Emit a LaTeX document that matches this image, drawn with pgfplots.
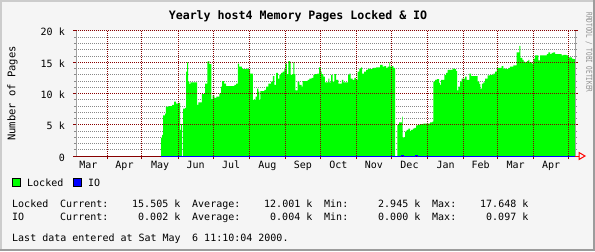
\documentclass[border=0pt]{standalone}
\usepackage{pgfplots}
\pgfplotsset{compat=1.18}
\usepackage{fontspec}
\setmainfont{DejaVu Sans Mono}
\newfontfamily\rrdmono{DejaVu Sans Mono}
\newcommand\rrdten{\rrdmono\fontsize{10bp}{12bp}\selectfont}
\definecolor{bg}{HTML}{F5F5F5}
\definecolor{edgeL}{HTML}{CCCCCC}
\definecolor{edgeD}{HTML}{9C9C9C}
\definecolor{mgrid}{HTML}{880000}
\definecolor{ngrid}{HTML}{888888}
\definecolor{axgray}{HTML}{A0A0A0}
\definecolor{credgray}{HTML}{8C8C8C}
\definecolor{lockgreen}{HTML}{00FF00}
\definecolor{ioblue}{HTML}{0000FF}
\begin{document}
\begin{tikzpicture}[x=1bp,y=1bp]
\useasboundingbox (0,0) rectangle (595,251);
\fill[bg] (0,0) rectangle (595,251);
\fill[edgeL] (0,0) rectangle (2,251);
\fill[edgeL] (0,249) rectangle (595,251);
\fill[edgeD] (592.5,0) rectangle (595,251);
\fill[edgeD] (0,0) rectangle (595,2);

\begin{axis}[name=base, at={(76bp,95bp)}, anchor=south west, scale only axis,
  width=499bp, height=125bp,
  xmin=-26.6, xmax=401.5, ymin=0, ymax=20,
  axis background/.style={fill=white},
  axis line style={draw=none},
  xtick={-16,15,45.5,76,106.5,137.5,168,198.5,229,259.5,290.5,320.5,350.5,381},
  xticklabels={Mar,Apr,May,Jun,Jul,Aug,Sep,Oct,Nov,Dec,Jan,Feb,Mar,Apr},
  xticklabel style={font=\rrdten, anchor=base, inner sep=0pt, yshift=-12bp},
  ytick={0,5,10,15,20}, yticklabels={},
  minor y tick num=4,
  yminorgrids=true,
  minor grid style={ngrid, line width=1bp, dash pattern=on 1bp off 1bp},
  major tick length=0pt, minor tick length=2bp, tick align=outside,
  tick style={ngrid, line width=1bp},
]
\addplot[draw=none, fill=lockgreen, const plot] coordinates {
(46.4,2.95) (47.2,3.4) (48.1,6.5) (49.8,6.8) (50.6,7.9) (53.2,8.0) (55.8,8.2)
(57.5,8.7) (59.2,8.4) (60.9,8.5) (62.7,4.2) (63.5,5.1) (64.4,0) (65.2,7.6)
(67.0,7.7) (67.8,13.5) (68.7,15.0) (69.5,11.9) (70.6,11.5) (71.5,11.8) (77.3,8.2)
(78.4,8.6) (81.3,9.9) (84.1,11.6) (86.1,15.1) (87.0,15.2) (87.8,14.7) (89.5,9.1)
(90.7,9.7) (92.1,9.3) (93.8,9.5) (96.4,10.0) (97.9,11.1) (98.7,12.0) (100.4,11.6)
(102.1,11.2) (109.3,11.4) (110.7,11.6) (112.2,14.8) (113.3,14.3) (115.6,14.0)
(117.0,13.9) (119.9,14.0) (121.3,13.9) (122.7,13.2) (125.1,9.0) (127.6,9.5)
(128.7,10.8) (129.8,10.3) (130.7,9.0) (131.5,10.4) (135.0,10.6) (136.4,11.1)
(138.4,11.6) (140.7,11.9) (142.2,12.8) (143.5,11.4) (145.0,13.3) (146.5,12.4)
(147.8,13.0) (149.3,13.3) (150.7,13.5) (152.1,13.9) (153.0,14.8) (154.2,13.1)
(155.6,15.2) (156.8,15.1) (157.6,13.0) (159.0,13.1) (159.8,15.0) (160.7,13.1)
(161.6,10.5) (163.6,11.9) (165.0,11.4) (167.0,11.1) (167.9,12.0) (172.2,12.2)
(173.6,12.4) (175.6,12.5) (177.0,13.0) (178.5,13.1) (180.4,13.2) (181.9,14.2)
(183.4,13.5) (184.2,13.1) (185.6,12.7) (187.0,11.8) (189.9,12.4) (190.7,11.8)
(192.2,13.0) (193.6,11.9) (195.0,13.1) (196.5,12.2) (198.5,11.6) (201.4,12.2)
(202.7,11.8) (206.8,13.0) (207.9,13.2) (209.1,12.4) (210.8,12.2) (212.2,12.5)
(213.6,12.2) (215.1,13.5) (216.5,14.0) (217.9,14.2) (218.8,13.2) (220.5,13.5)
(222.2,13.8) (223.7,14.0) (225.7,13.9) (228.0,14.1) (230.8,14.2) (234.2,14.6)
(236.5,14.3) (237.9,14.4) (239.4,14.1) (240.8,14.3) (242.2,15.0) (242.8,14.3)
(244.3,14.4) (245.6,14.1) (247.1,0) (249.1,5.0) (250.5,5.4) (253.1,6.3)
(253.7,3.0) (255.7,3.9) (257.1,4.2) (258.5,4.4) (260.0,4.0) (260.8,4.2)
(262.3,4.4) (263.7,4.5) (265.1,4.9) (266.6,5.0) (268.5,5.1) (271.4,5.2)
(277.1,5.4) (279.1,5.5) (280.0,11.9) (281.4,12.2) (282.9,12.3) (283.7,12.3)
(284.9,11.7) (285.7,11.4) (286.6,12.2) (289.4,13.0) (290.9,13.3) (292.3,13.8)
(296.6,14.0) (298.0,13.9) (299.4,13.6) (300.3,10.5) (301.4,11.1) (302.9,11.9)
(304.3,12.4) (307.2,12.7) (308.6,12.2) (310.9,13.2) (312.3,12.8) (318.0,11.9)
(319.4,11.5) (320.3,10.8) (321.5,11.6) (322.9,11.8) (324.3,12.4) (326.6,12.9)
(328.6,13.0) (331.4,13.2) (332.9,13.5) (334.4,14.1) (338.6,14.4) (340.0,14.0)
(342.9,13.9) (344.3,14.1) (345.8,14.3) (348.6,14.5) (351.5,16.6) (353.8,17.6)
(354.6,15.7) (356.3,15.4) (357.5,15.1) (358.6,15.0) (360.1,15.2) (361.5,15.4)
(362.3,15.0) (364.4,14.8) (365.7,15.6) (367.2,16.1) (370.0,15.3) (371.5,16.1)
(377.3,16.3) (378.6,16.6) (380.1,16.3) (381.5,16.5) (382.9,16.6) (384.4,16.3)
(390.1,16.1) (391.5,16.2) (394.4,16.1) (395.8,15.8) (398.7,15.6) (400.1,15.5)
(401.5,15.5)
} \closedcycle;
\end{axis}

\begin{axis}[name=main, at={(76bp,95bp)}, anchor=south west, scale only axis,
  width=499bp, height=125bp,
  xmin=-26.6, xmax=401.5, ymin=0, ymax=20,
  axis line style={draw=none},
  xtick={0,30,61,91,122,153,183,214,244,275,306,335,366,396}, xticklabels={},
  ytick={0,5,10,15,20}, yticklabels={0,5 k,10 k,15 k,20 k},
  yticklabel style={font=\rrdten, anchor=base east, inner sep=0pt, xshift=-8bp, yshift=-5bp},
  grid=major,
  major grid style={mgrid, line width=1bp, dash pattern=on 1bp off 1bp},
  tick align=outside, major tick length=3bp,
  tick style={mgrid, line width=1bp},
  xtick pos=left, ytick pos=both, yticklabel pos=left,
]
\draw[mgrid, line width=1bp] (axis cs:-26.6,0) -- (axis cs:401.5,0);
\addplot[ioblue, line width=1bp, const plot] coordinates {
(46.4,0) (253.0,0.097) (254.0,0) (265.0,0.05) (266.0,0) (401.5,0)
};
\end{axis}

\draw[axgray, line width=1bp] (main.south west) -- (main.north west);
\draw[axgray, line width=1bp] (main.south east) -- (main.north east);
\draw[red, line width=1bp] (575,95) -- (579,95);
\draw[red, line width=1bp] (579,98.5) -- (585,95) -- (579,91.5) -- cycle;

\node[anchor=base, inner sep=0pt] at (298,232) {\rrdmono\bfseries\fontsize{11.6bp}{14bp}\selectfont Yearly host4 Memory Pages Locked \& IO};
\node[rotate=90, inner sep=0pt] at (12.5,157.5) {\rrdmono\fontsize{10.5bp}{12bp}\selectfont Number of Pages};
\node[rotate=-90, yscale=1.35, inner sep=0pt, text=credgray] at (589,198.5) {\rrdmono\fontsize{6bp}{7bp}\selectfont RRDTOOL / TOBI OETIKER};

\filldraw[fill=lockgreen, draw=black, line width=1bp] (12.5,64.5) rectangle (20.5,72.5);
\node[anchor=base west, inner sep=0pt] at (27,64.3) {\rrdten Locked};
\filldraw[fill=ioblue, draw=black, line width=1bp] (73.5,64.5) rectangle (81.5,72.5);
\node[anchor=base west, inner sep=0pt] at (88,64.3) {\rrdten IO};

\begin{scope}[every node/.style={inner sep=0pt, font=\rrdten}]
\node[anchor=base west] at (12,43.3) {Locked};
\node[anchor=base west] at (60,43.3) {Current:};
\node[anchor=base west] at (132,43.3) {15.505 k};
\node[anchor=base west] at (192,43.3) {Average:};
\node[anchor=base west] at (264,43.3) {12.001 k};
\node[anchor=base west] at (324,43.3) {Min:};
\node[anchor=base west] at (378,43.3) {2.945 k};
\node[anchor=base west] at (432,43.3) {Max:};
\node[anchor=base west] at (480,43.3) {17.648 k};
\node[anchor=base west] at (12,30.3) {IO};
\node[anchor=base west] at (60,30.3) {Current:};
\node[anchor=base west] at (138,30.3) {0.002 k};
\node[anchor=base west] at (192,30.3) {Average:};
\node[anchor=base west] at (270,30.3) {0.004 k};
\node[anchor=base west] at (324,30.3) {Min:};
\node[anchor=base west] at (378,30.3) {0.000 k};
\node[anchor=base west] at (432,30.3) {Max:};
\node[anchor=base west] at (486,30.3) {0.097 k};
\node[anchor=base west] at (12,10) {Last data entered at Sat May};
\node[anchor=base west] at (192,10) {6 11:10:04 2000.};
\end{scope}
\end{tikzpicture}
\end{document}
